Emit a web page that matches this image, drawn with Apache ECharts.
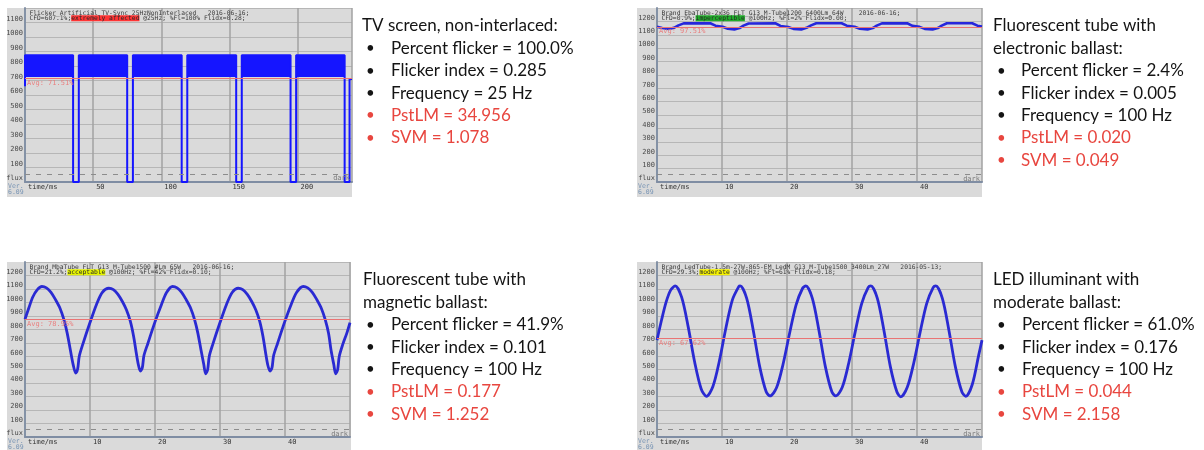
<!DOCTYPE html>
<html>
<head>
<meta charset="utf-8">
<script src="https://cdn.jsdelivr.net/npm/echarts@6/dist/echarts.min.js"></script>
<style>
  html, body { margin: 0; padding: 0; background: #ffffff; }
  #c { width: 1204px; height: 450px; }
</style>
</head>
<body>
<div id="c"></div>
<script>
// ---------- measurement traces (time in ms, light level in counts) ----------

// TV screen, 25 Hz: outline of the trace (edges and dark gaps)
const tvTime  = [0, 0, 35.3, 35.3, 39.5, 39.5, 75.0, 75.0, 79.2, 79.2, 115.0, 115.0, 119.1, 119.1,
  155.0, 155.0, 159.1, 159.1, 194.9, 194.9, 199.0, 199.0, 234.6, 234.6, 238.2, 238.2, 240];
const tvLevel = [660, 875, 875, 0, 0, 875, 875, 0, 0, 875, 875, 0, 0, 875,
  875, 0, 0, 875, 875, 0, 0, 875, 875, 0, 0, 710, 710];
// ...and the lit intervals, where the signal flickers fast inside a band
const tvLitStart = [0, 39.5, 79.2, 119.1, 159.1, 199.0];
const tvLitEnd   = [35.3, 75.0, 115.0, 155.0, 194.9, 234.6];
const tvBandLow = 725;
const tvBandHigh = 875;

// Fluorescent tube, electronic ballast: small 100 Hz ripple
const ebaTrace = [
  [0, 1160], [0.8, 1150], [1.8, 1143], [2.6, 1152], [3.3, 1170], [4.1, 1185], [8.2, 1186], [9.0, 1168],
  [10.1, 1160], [10.9, 1145], [11.9, 1140], [12.7, 1150], [13.3, 1168], [14.1, 1184], [18.2, 1186], [19.0, 1166],
  [20.2, 1158], [21.0, 1144], [22.2, 1140], [23.0, 1152], [23.7, 1170], [24.5, 1186], [28.4, 1186], [29.2, 1168],
  [30.4, 1160], [31.2, 1145], [32.4, 1140], [33.2, 1150], [33.8, 1168], [34.6, 1185], [38.5, 1186], [39.3, 1167],
  [40.4, 1159], [41.2, 1144], [42.4, 1140], [43.2, 1150], [43.8, 1168], [44.6, 1186], [48.5, 1186], [49.3, 1168],
  [50, 1162]
];

// Fluorescent tube, magnetic ballast: sharp troughs with a knee on the rising edge
const mbaTrace = [
  [0.0, 875], [0.6, 960], [1.2, 1040], [1.9, 1095], [2.6, 1118], [3.3, 1108], [4.0, 1075], [4.7, 1020],
  [5.4, 955], [6.0, 870], [6.5, 770], [7.0, 640], [7.4, 540], [7.8, 475], [8.1, 505], [8.35, 600],
  [8.9, 690], [10.0, 850], [11.0, 985], [11.9, 1075], [12.9, 1105], [13.6, 1095], [14.3, 1060], [15.0, 1005],
  [15.6, 945], [16.2, 860], [16.7, 750], [17.1, 630], [17.45, 535], [17.75, 490], [18.05, 515], [18.3, 605],
  [18.9, 695], [20.0, 855], [21.0, 985], [21.8, 1075], [22.7, 1118], [23.4, 1108], [24.1, 1075], [24.8, 1020],
  [25.5, 955], [26.1, 870], [26.6, 770], [27.1, 640], [27.5, 540], [27.8, 470], [28.1, 500], [28.35, 600],
  [28.9, 690], [30.0, 850], [31.0, 985], [31.9, 1075], [32.8, 1105], [33.5, 1095], [34.2, 1060], [34.9, 1005],
  [35.5, 945], [36.1, 860], [36.6, 750], [37.0, 630], [37.35, 535], [37.7, 490], [38.0, 515], [38.25, 605],
  [38.85, 695], [39.95, 855], [40.95, 985], [41.8, 1075], [42.8, 1118], [43.5, 1108], [44.2, 1075], [44.9, 1020],
  [45.6, 955], [46.2, 870], [46.7, 770], [47.1, 640], [47.5, 540], [47.8, 470], [48.1, 500], [48.35, 600],
  [48.9, 690], [49.5, 770], [50.0, 850]
];

// LED tube, moderate ballast: near-sinusoidal 100 Hz modulation
const ledTrace = [
  [0.0, 720], [0.7, 869], [1.4, 1002], [2.1, 1091], [2.8, 1122], [3.8, 1037], [4.8, 818], [5.8, 555],
  [6.8, 357], [7.6, 302], [8.6, 375], [9.6, 566], [10.6, 810], [11.6, 1019], [12.6, 1119], [12.8, 1122],
  [13.8, 1030], [14.8, 795], [15.8, 523], [16.8, 336], [17.4, 305], [18.4, 367], [19.4, 542], [20.4, 771],
  [21.4, 981], [22.4, 1105], [22.9, 1122], [23.9, 1030], [24.9, 795], [25.9, 523], [26.9, 336], [27.5, 305],
  [28.5, 369], [29.5, 550], [30.5, 783], [31.5, 993], [32.5, 1111], [32.9, 1122], [33.9, 1030], [34.9, 795],
  [35.9, 523], [36.9, 336], [37.5, 298], [38.5, 369], [39.5, 550], [40.5, 783], [41.5, 993], [42.5, 1111],
  [42.9, 1122], [43.9, 1030], [44.9, 795], [45.9, 523], [46.9, 336], [47.5, 302], [48.5, 390], [49.5, 610],
  [50.0, 720]
];

// Average and "dark" reference levels per trace
const avgLevel = [715, 1158, 872, 732];
const avgPercent = ['71.51%', '97.51%', '78.95%', '67.62%'];
const darkLevel = 55;

// Axis ranges and ticks
const timeMax = [240, 50, 50, 50];
const timeStep = [50, 10, 10, 10];
const levelMax = [1200, 1300, 1300, 1300];
const levelStep = 100;

// Header lines printed inside each trace panel
const traceNames = [
  'Flicker_Artificial_TV-Sync_25HzNonInterlaced   2016-06-16;',
  'Brand_EbaTube-2x36_FLT_G13_M-Tube1200_6400Lm_64W    2016-06-16;',
  'Brand_MbaTube_FLT_G13_M-Tube1500_#Lm_65W   2016-06-16;',
  'Brand_LedTube-1.5m-27W-865-EM_LedM_G13_M-Tube1500_3400Lm_27W   2016-05-13;'
];
const cfdValues = ['607.1%', '0.9%', '21.2%', '29.3%'];
const cfdRatings = ['extremely affected', 'imperceptible', 'acceptable', 'moderate'];
const ratingColors = ['#ff3434', '#1fae2a', '#e6f500', '#f7f400'];
const mainFreq = ['25Hz', '100Hz', '100Hz', '100Hz'];
const flPercent = ['100%', '2%', '42%', '61%'];
const flIdx = ['0.28', '0.00', '0.10', '0.18'];

// Summary notes beside each panel
const noteTitles = [
  ['TV screen, non-interlaced:'],
  ['Fluorescent tube with', 'electronic ballast:'],
  ['Fluorescent tube with', 'magnetic ballast:'],
  ['LED illuminant with', 'moderate ballast:']
];
const percentFlicker = ['100.0%', '2.4%', '41.9%', '61.0%'];
const flickerIndex = ['0.285', '0.005', '0.101', '0.176'];
const frequency = ['25 Hz', '100 Hz', '100 Hz', '100 Hz'];
const pstLM = ['34.956', '0.020', '0.177', '0.044'];
const svm = ['1.078', '0.049', '1.252', '2.158'];

// ---------- layout ----------
const panels = [
  { x0: 7,   y0: 8,   x1: 352, y1: 197, left: 25,  top: 8,   width: 327, height: 174 },
  { x0: 637, y0: 8,   x1: 982, y1: 197, left: 657, top: 8,   width: 325, height: 174 },
  { x0: 7,   y0: 262, x1: 351, y1: 450, left: 25,  top: 262, width: 325, height: 175 },
  { x0: 637, y0: 262, x1: 982, y1: 450, left: 657, top: 262, width: 325, height: 175 }
];
const notePos = [
  { x: 362, bx: 366, ix: 391,  y: 26 },
  { x: 993, bx: 997, ix: 1021, y: 26 },
  { x: 363, bx: 366, ix: 391,  y: 280 },
  { x: 993, bx: 997, ix: 1022, y: 280 }
];
const NOTE_STEP = 22.4;
const NOTE_SIZE = 17;
const MONO = 'DejaVu Sans Mono';
const NOTE_FONT = 'Lato';
const INK = '#141414';
const RED = '#e8463f';

const chart = echarts.init(document.getElementById('c'));

const grids = panels.map(p => ({
  left: p.left, top: p.top, width: p.width, height: p.height,
  show: false, containLabel: false
}));

const xAxes = panels.map((p, i) => ({
  type: 'value', gridIndex: i, min: 0, max: timeMax[i], interval: timeStep[i],
  axisLine: { show: true, onZero: false, lineStyle: { color: '#7f8da3', width: 2 } },
  axisTick: { show: false },
  axisLabel: {
    interval: 0, showMaxLabel: false, align: 'left', margin: 2, padding: [0, 0, 0, 3],
    fontSize: 7, fontFamily: MONO, color: '#333',
    formatter: v => (v === 0 ? 'time/ms' : String(v))
  },
  splitLine: { show: true, lineStyle: { color: '#a2a2a2', width: 1.5 } }
}));

const yAxes = panels.map((p, i) => ({
  type: 'value', gridIndex: i, min: 0, max: levelMax[i], interval: levelStep,
  axisLine: { show: true, lineStyle: { color: '#8492a6', width: 2 } },
  axisTick: { show: false },
  axisLabel: {
    interval: 0, showMaxLabel: false, margin: 2, verticalAlign: 'bottom',
    fontSize: 7, fontFamily: MONO, color: '#4a4a4a',
    formatter: v => (v === 0 ? 'flux' : String(v))
  },
  splitLine: { show: true, lineStyle: { color: '#b6b6b6', width: 1 } }
}));

function refLines(i) {
  return {
    silent: true, symbol: 'none', animation: false,
    data: [
      {
        yAxis: avgLevel[i],
        lineStyle: { color: '#e97474', width: 1, type: 'solid' },
        label: {
          formatter: 'Avg: ' + avgPercent[i], position: 'insideStartBottom', distance: [2, 1],
          fontSize: 7, fontFamily: MONO, color: '#e98080'
        }
      },
      {
        yAxis: darkLevel,
        lineStyle: { color: '#8c8c8c', width: 1.2, type: [5, 6] },
        label: {
          formatter: 'dark', position: 'insideEndBottom', distance: [2, 1],
          fontSize: 7, fontFamily: MONO, color: '#7a7a7a'
        }
      }
    ]
  };
}

const TV_BLUE = '#1515ff';
const series = [
  {
    // fast flicker inside each lit interval, drawn as a filled band
    type: 'custom', xAxisIndex: 0, yAxisIndex: 0, clip: true, silent: true,
    data: tvLitStart.map((s, k) => [s, tvLitEnd[k], tvBandLow, tvBandHigh]),
    encode: { x: [0, 1], y: [2, 3] },
    renderItem: (params, api) => {
      const a = api.coord([api.value(0), api.value(3)]);
      const b = api.coord([api.value(1), api.value(2)]);
      return {
        type: 'rect',
        shape: { x: a[0], y: a[1], width: b[0] - a[0], height: b[1] - a[1] },
        style: { fill: TV_BLUE }
      };
    }
  },
  {
    type: 'line', xAxisIndex: 0, yAxisIndex: 0, symbol: 'none',
    data: tvTime.map((t, k) => [t, tvLevel[k]]),
    lineStyle: { color: TV_BLUE, width: 2 },
    markLine: refLines(0)
  },
  {
    type: 'line', xAxisIndex: 1, yAxisIndex: 1, symbol: 'none', data: ebaTrace,
    lineStyle: { color: '#2626dc', width: 2.6 },
    markLine: refLines(1)
  },
  {
    type: 'line', xAxisIndex: 2, yAxisIndex: 2, symbol: 'none', smooth: 0.3, data: mbaTrace,
    lineStyle: { color: '#2a2ad2', width: 2.8 },
    markLine: refLines(2)
  },
  {
    type: 'line', xAxisIndex: 3, yAxisIndex: 3, symbol: 'none', smooth: 0.3, data: ledTrace,
    lineStyle: { color: '#2a2ad2', width: 2.8 },
    markLine: refLines(3)
  }
];

// ---------- panel frames, headers and side notes ----------
const graphics = [];
panels.forEach((p, i) => {
  graphics.push({
    type: 'rect', z: -10, silent: true,
    shape: { x: p.x0, y: p.y0, width: p.x1 - p.x0, height: p.y1 - p.y0 },
    style: { fill: '#dadada' }
  });
  const hx = p.left + 4.5;
  graphics.push({
    type: 'text', z: 10, x: hx, y: p.top + 5,
    style: { text: traceNames[i], fontFamily: MONO, fontSize: 6.3, fill: '#3a3a3a', verticalAlign: 'middle' }
  });
  graphics.push({
    type: 'text', z: 10, x: hx, y: p.top + 10.2,
    style: {
      text: 'CFD=' + cfdValues[i] + ';{hl|' + cfdRatings[i] + '} @' + mainFreq[i] + '; %Fl=' + flPercent[i] + ' Flidx=' + flIdx[i] + ';',
      fontFamily: MONO, fontSize: 6.3, fill: '#3a3a3a', verticalAlign: 'middle',
      rich: { hl: { backgroundColor: ratingColors[i], fill: '#2a2a2a', fontFamily: MONO, fontSize: 6.3, lineHeight: 5.5 } }
    }
  });
  const vy = p.top + p.height;
  graphics.push({
    type: 'text', z: 10, x: p.x0 + 1, y: vy + 4,
    style: { text: 'Ver.', fontFamily: MONO, fontSize: 6.5, fill: '#7894b4', verticalAlign: 'middle' }
  });
  graphics.push({
    type: 'text', z: 10, x: p.x0 + 1, y: vy + 10.5,
    style: { text: '6.09', fontFamily: MONO, fontSize: 6.5, fill: '#7894b4', verticalAlign: 'middle' }
  });

  const n = notePos[i];
  let y = n.y;
  noteTitles[i].forEach(line => {
    graphics.push({
      type: 'text', x: n.x, y: y,
      style: { text: line, fontFamily: NOTE_FONT, fontSize: NOTE_SIZE, fill: INK, verticalAlign: 'middle' }
    });
    y += NOTE_STEP;
  });
  const items = [
    ['Percent flicker = ' + percentFlicker[i], INK],
    ['Flicker index = ' + flickerIndex[i], INK],
    ['Frequency = ' + frequency[i], INK],
    ['PstLM = ' + pstLM[i], RED],
    ['SVM = ' + svm[i], RED]
  ];
  items.forEach(([txt, col]) => {
    graphics.push({
      type: 'text', x: n.bx, y: y,
      style: { text: '\u2022', fontFamily: NOTE_FONT, fontSize: 15, fill: col, verticalAlign: 'middle' }
    });
    graphics.push({
      type: 'text', x: n.ix, y: y,
      style: { text: txt, fontFamily: NOTE_FONT, fontSize: NOTE_SIZE, fill: col, verticalAlign: 'middle' }
    });
    y += NOTE_STEP;
  });
});

chart.setOption({
  animation: false,
  backgroundColor: '#ffffff',
  grid: grids,
  xAxis: xAxes,
  yAxis: yAxes,
  series: series,
  graphic: { elements: graphics }
});
</script>
</body>
</html>
